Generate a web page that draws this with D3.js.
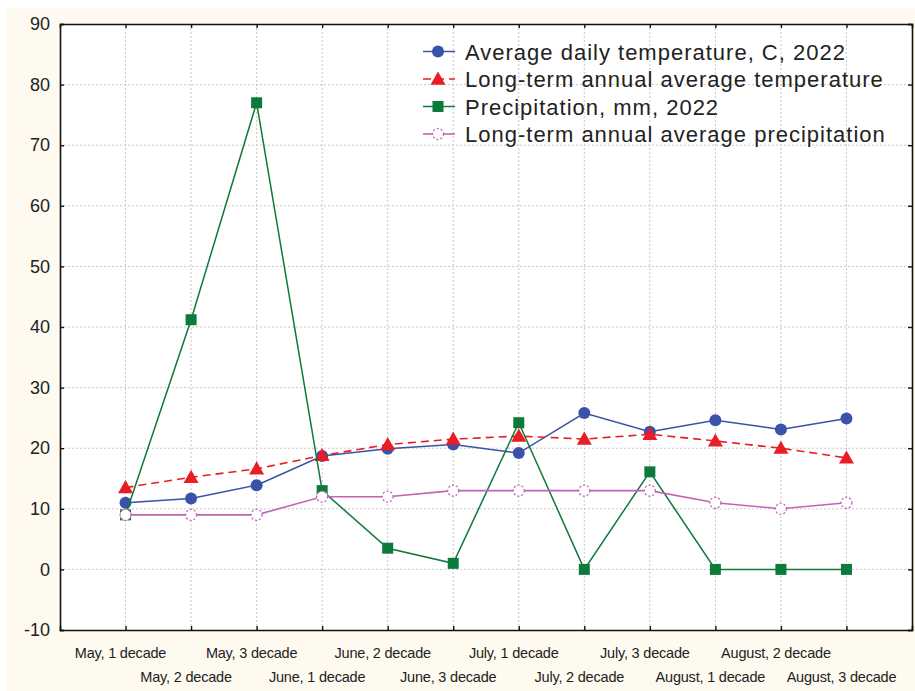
<!DOCTYPE html>
<html><head><meta charset="utf-8">
<script src="https://cdn.jsdelivr.net/npm/d3@7"></script>
<style>
html,body{margin:0;padding:0;background:#fff;}
svg{display:block;font-family:"Liberation Sans",Arial,sans-serif;}
</style></head>
<body><svg id="c" width="915" height="691"></svg>
<script>
const categories = ["May, 1 decade","May, 2 decade","May, 3 decade","June, 1 decade","June, 2 decade","June, 3 decade","July, 1 decade","July, 2 decade","July, 3 decade","August, 1 decade","August, 2 decade","August, 3 decade"];
const avgTemp2022 = [11.0, 11.7, 13.9, 18.7, 19.9, 20.6, 19.2, 25.8, 22.7, 24.6, 23.1, 24.9];
const longTermTemp = [13.5, 15.2, 16.6, 18.8, 20.6, 21.5, 22.0, 21.5, 22.3, 21.2, 20.0, 18.4];
const precip2022 = [9.0, 41.2, 77.0, 13.0, 3.5, 1.0, 24.2, 0, 16.1, 0, 0, 0];
const longTermPrecip = [9, 9, 9, 12, 12, 13, 13, 13, 13, 11, 10, 11];
const yTicks = [-10, 0, 10, 20, 30, 40, 50, 60, 70, 80, 90];
const seriesNames = ["Average daily temperature, C, 2022","Long-term annual average temperature","Precipitation, mm, 2022","Long-term annual average precipitation"];

const svg = d3.select("#c");
const L = 60, R = 912, T = 24, B = 630;
svg.append("rect").attr("x",7).attr("y",8).attr("width",908).attr("height",683).attr("fill","#fefaf0");
svg.append("rect").attr("x",L).attr("y",T).attr("width",R-L).attr("height",B-T).attr("fill","#fff");

const x = d3.scaleLinear().domain([-1, 12]).range([L, R]);
const y = d3.scaleLinear().domain([-10, 90]).range([B, T]);
const idx = d3.range(categories.length);

// grid
const g = svg.append("g");
g.selectAll("line.h").data(yTicks.slice(1,-1)).join("line")
  .attr("x1",L).attr("x2",R).attr("y1",d=>y(d)).attr("y2",d=>y(d))
  .attr("stroke","#c8c8c8").attr("stroke-width",1).attr("stroke-dasharray","2,2");
g.selectAll("line.v").data(idx).join("line")
  .attr("x1",d=>x(d)).attr("x2",d=>x(d)).attr("y1",T).attr("y2",B)
  .attr("stroke","#c8c8c8").attr("stroke-width",1).attr("stroke-dasharray","2,2");

// axes
const axL = d3.axisLeft(y).tickValues(yTicks).tickSize(-4).tickPadding(10).tickFormat(d=>String(d));
const axLg = svg.append("g").attr("transform",`translate(${L},0)`).call(axL);
axLg.selectAll("text").attr("font-size",18).attr("fill","#222").attr("font-family","'Liberation Sans',Arial,sans-serif");
const axR = d3.axisRight(y).tickValues(yTicks).tickSize(-4).tickFormat("");
svg.append("g").attr("transform",`translate(${R},0)`).call(axR);
const axB = d3.axisBottom(x).tickValues(idx).tickSize(-4).tickFormat("");
svg.append("g").attr("transform",`translate(0,${B})`).call(axB);
const axT = d3.axisTop(x).tickValues(idx).tickSize(-4).tickFormat("");
svg.append("g").attr("transform",`translate(0,${T})`).call(axT);
svg.selectAll(".domain").attr("stroke","#111").attr("stroke-width",1.6);
svg.selectAll(".tick line").attr("stroke","#111").attr("stroke-width",1.4);

// x labels staggered
svg.append("g").selectAll("text").data(idx).join("text")
  .attr("x",d=>x(d)-5).attr("y",d=> d%2===0 ? 658 : 682)
  .attr("text-anchor","middle").attr("font-size",14.5).attr("fill","#222")
  .attr("letter-spacing","-0.2")
  .text(d=>categories[d]);

const line = d3.line().x((d,i)=>x(i)).y(d=>y(d));

function drawMarker(sel, type, cx, cy){
  if(type==="circle"){
    sel.append("circle").attr("cx",cx).attr("cy",cy).attr("r",6).attr("fill","#3a52a8");
  } else if(type==="tri"){
    const s=7.5;
    sel.append("path").attr("d",`M${cx},${cy-s}L${cx+s},${cy+s*0.75}L${cx-s},${cy+s*0.75}Z`).attr("fill","#e81d25");
  } else if(type==="sq"){
    sel.append("rect").attr("x",cx-5.5).attr("y",cy-5.5).attr("width",11).attr("height",11).attr("fill","#0b7a3b");
  } else {
    sel.append("circle").attr("cx",cx).attr("cy",cy).attr("r",5.5).attr("fill","#fff")
      .attr("stroke","#c462b6").attr("stroke-width",1.3).attr("stroke-dasharray","2,2");
  }
}

const series = [
  {data:avgTemp2022, color:"#3a52a8", dash:null, m:"circle", w:1.5},
  {data:longTermTemp, color:"#e81d25", dash:"8,5", m:"tri", w:1.6},
  {data:precip2022, color:"#0b7a3b", dash:null, m:"sq", w:1.5},
  {data:longTermPrecip, color:"#c462b6", dash:null, m:"star", w:1.6}
];
series.forEach(s=>{
  const gg = svg.append("g");
  gg.append("path").attr("d",line(s.data)).attr("fill","none").attr("stroke",s.color)
    .attr("stroke-width",s.w).attr("stroke-dasharray",s.dash);
  s.data.forEach((v,i)=>drawMarker(gg, s.m, x(i), y(v)));
});

// legend
const lg = svg.append("g");
const rows = [51.5, 79, 106.5, 134];
series.forEach((s,i)=>{
  const yy = rows[i];
  lg.append("line").attr("x1",423).attr("x2",455).attr("y1",yy).attr("y2",yy)
    .attr("stroke",s.color).attr("stroke-width",s.w).attr("stroke-dasharray",s.dash);
  drawMarker(lg, s.m, 438, yy);
  lg.append("text").attr("x",465).attr("y",yy+8).attr("font-size",22).attr("fill","#222")
    .attr("letter-spacing","1")
    .text(seriesNames[i]);
});
</script></body></html>
